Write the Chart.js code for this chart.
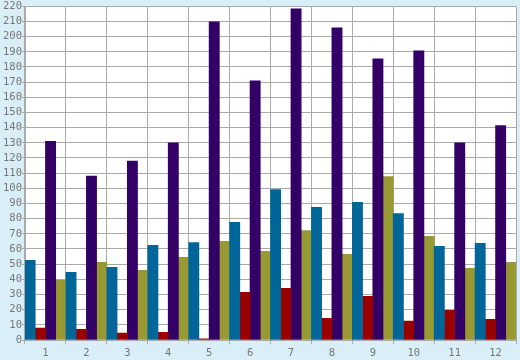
<!DOCTYPE html>
<html>
<head>
<meta charset="utf-8">
<script src="https://cdn.jsdelivr.net/npm/chart.js@4/dist/chart.umd.min.js"></script>
<style>
html,body{margin:0;padding:0;background:#d9eef6;}
#wrap{width:520px;height:360px;}
</style>
</head>
<body>
<div id="wrap"><canvas id="c" width="520" height="360"></canvas></div>
<script>
const categories = ["1","2","3","4","5","6","7","8","9","10","11","12"];
const seriesBlue   = [52.5, 44.6, 47.9, 62.4, 64.3, 77.5, 99.2, 87.4, 90.7, 83.4, 61.7, 63.7];
const seriesRed    = [7.8, 7.1, 4.5, 5.1, 0.7, 31.4, 34.0, 14.3, 28.8, 12.4, 19.6, 13.7];
const seriesPurple = [130.9, 108.0, 118.0, 130.0, 209.7, 170.9, 218.3, 205.8, 185.4, 190.7, 130.0, 141.3];
const seriesOlive  = [39.3, 51.2, 45.9, 54.5, 65.0, 58.4, 72.2, 56.4, 107.8, 68.3, 47.2, 51.2];
const yMin = 0, yMax = 220, yStep = 10;

const plotBg = {
  id: 'plotBg',
  beforeDraw(chart) {
    const {ctx, chartArea: a} = chart;
    ctx.save();
    ctx.fillStyle = '#d9eef6';
    ctx.fillRect(0, 0, chart.width, chart.height);
    ctx.fillStyle = '#ffffff';
    ctx.fillRect(a.left, a.top, a.right - a.left, a.bottom - a.top);
    ctx.restore();
  }
};

const tickFont = {family: "'DejaVu Sans Mono', monospace", size: 10.5};
const gridColor = '#aaaaaa';

new Chart(document.getElementById('c'), {
  type: 'bar',
  data: {
    labels: categories,
    datasets: [
      {data: seriesBlue, backgroundColor: '#006699'},
      {data: seriesRed, backgroundColor: '#990000'},
      {data: seriesPurple, backgroundColor: '#330066'},
      {data: seriesOlive, backgroundColor: '#999933'}
    ]
  },
  options: {
    responsive: false,
    animation: false,
    layout: {padding: {top: 5, right: 4, left: 0, bottom: 0}},
    datasets: {bar: {categoryPercentage: 1, barPercentage: 1, borderWidth: 0}},
    plugins: {legend: {display: false}, tooltip: {enabled: false}},
    scales: {
      x: {
        offset: true,
        grid: {offset: true, color: gridColor, lineWidth: 1, tickLength: 4, drawTicks: true},
        border: {color: gridColor},
        ticks: {font: tickFont, color: '#777777', padding: 3, maxRotation: 0, autoSkip: false},
        afterFit(s) { s.height = 20; }
      },
      y: {
        min: yMin, max: yMax,
        grid: {color: gridColor, lineWidth: 1, tickLength: 3},
        border: {color: gridColor},
        ticks: {stepSize: yStep, font: tickFont, color: '#777777', padding: 0, autoSkip: false},
        afterFit(s) { s.width = 25; }
      }
    }
  },
  plugins: [plotBg]
});
</script>
</body>
</html>
